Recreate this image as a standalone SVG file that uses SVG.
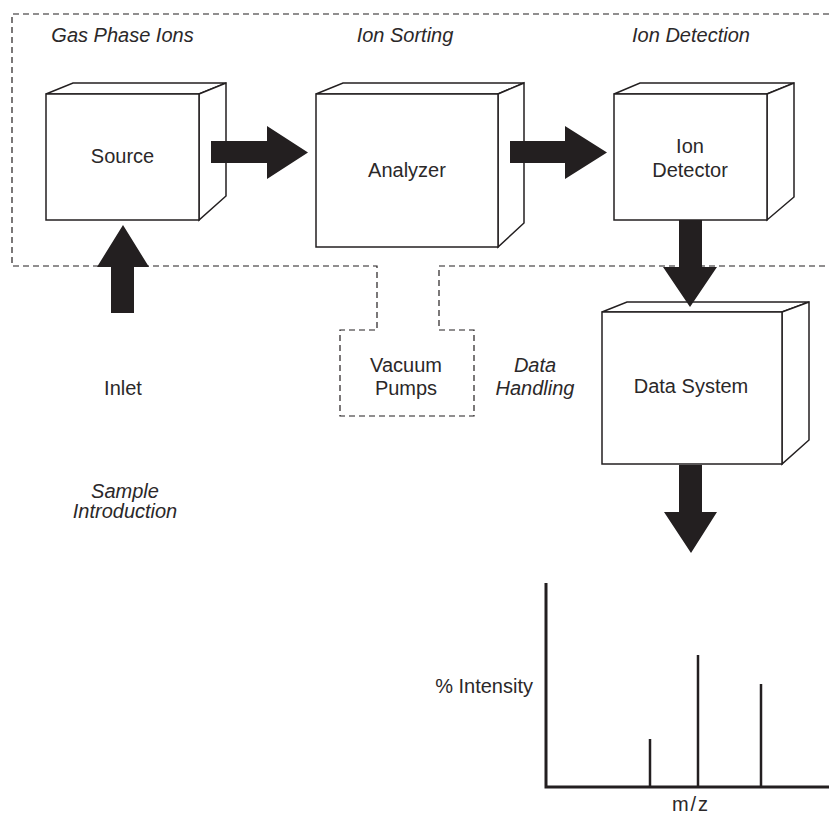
<svg xmlns="http://www.w3.org/2000/svg" width="829" height="817" viewBox="0 0 829 817">
<style>
.box{fill:#fff;stroke:#231f20;stroke-width:1.5;stroke-linejoin:miter}
.dash{fill:none;stroke:#231f20;stroke-width:1.2;stroke-dasharray:6 4}
.arrow{fill:#231f20;stroke:none}
.t{font-family:"Liberation Sans",Arial,sans-serif;font-size:20px;fill:#2b2829;text-anchor:middle}
.i{font-style:italic}
.ax{fill:none;stroke:#231f20;stroke-width:3}
.pk{stroke:#231f20;stroke-width:2.5}
</style>
<rect width="829" height="817" fill="#fff"/>
<g id="boundary">
<path class="dash" d="M829,14 H12 V266 H377 V330 H340 V416 H474 V330 H439 V266 H829"/>
</g>
<g id="labels">
<text class="t i" x="122.5" y="42">Gas Phase Ions</text>
<text class="t i" x="405" y="42">Ion Sorting</text>
<text class="t i" x="691" y="42">Ion Detection</text>
<text class="t i" x="535" y="372">Data</text>
<text class="t i" x="535" y="395">Handling</text>
<text class="t i" x="125" y="498">Sample</text>
<text class="t i" x="125" y="518">Introduction</text>
</g>
<g id="source">
<polygon class="box" points="46,94 73,83 226,83 199,94"/>
<polygon class="box" points="199,94 226,83 226,196 199,220"/>
<rect class="box" x="46" y="94" width="153" height="126"/>
<text class="t" x="122.5" y="163">Source</text>
</g>
<g id="analyzer">
<polygon class="box" points="316,94 343,83 524,83 498,94"/>
<polygon class="box" points="498,94 524,83 524,223 498,247"/>
<rect class="box" x="316" y="94" width="182" height="153"/>
<text class="t" x="407" y="177">Analyzer</text>
</g>
<g id="detector">
<polygon class="box" points="614,94 640,83 794,83 767,94"/>
<polygon class="box" points="767,94 794,83 794,197 767,220"/>
<rect class="box" x="614" y="94" width="153" height="126"/>
<text class="t" x="690" y="153">Ion</text>
<text class="t" x="690" y="177">Detector</text>
</g>
<g id="vacuum">
<text class="t" x="406" y="372">Vacuum</text>
<text class="t" x="406" y="395">Pumps</text>
</g>
<g id="datasystem">
<polygon class="box" points="602,312 627,302 809,302 782,312"/>
<polygon class="box" points="782,312 809,302 809,440 782,464"/>
<rect class="box" x="602" y="312" width="180" height="152"/>
<text class="t" x="691" y="393">Data System</text>
</g>
<g id="inlet">
<text class="t" x="123" y="395">Inlet</text>
</g>
<g id="connectors">
<polygon class="arrow" points="211,141 267,141 267,126 308,152.5 267,179 267,163 211,163"/>
<polygon class="arrow" points="510,141 565,141 565,126 607,152.5 565,179 565,163 510,163"/>
<polygon class="arrow" points="679,220 702,220 702,267 717,267 690,307 663,267 679,267"/>
<polygon class="arrow" points="111,313 134,313 134,267 149,267 123,225 97,267 111,267"/>
<polygon class="arrow" points="679,465 702,465 702,512 717,512 691,553 664,512 679,512"/>
</g>
<g id="spectrum">
<polyline class="ax" points="546,583 546,787 829,787"/>
<line class="pk" x1="650" y1="787" x2="650" y2="739"/>
<line class="pk" x1="698" y1="787" x2="698" y2="655"/>
<line class="pk" x1="761" y1="787" x2="761" y2="684"/>
<text class="t" x="533" y="693" style="text-anchor:end">% Intensity</text>
<text class="t" x="691" y="811" style="letter-spacing:2px">m/z</text>
</g>
</svg>
